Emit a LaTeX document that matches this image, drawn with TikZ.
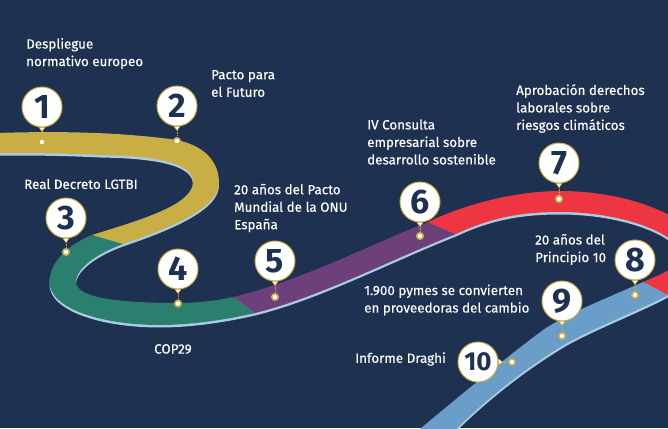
\documentclass[tikz,border=0pt]{standalone}
\usepackage{fontspec}
\setmainfont{Fira Sans}
\newfontfamily\capfont{Fira Sans}[FakeBold=0.25]
\usetikzlibrary{arrows.meta, calc}

\definecolor{navy}{HTML}{1F3150}
\definecolor{ribgold}{HTML}{C8AE45}
\definecolor{ribgreen}{HTML}{2A7F6F}
\definecolor{ribpurple}{HTML}{6D3F7B}
\definecolor{ribred}{HTML}{EE3642}
\definecolor{ribblue}{HTML}{6A9DC8}
\definecolor{ribedge}{HTML}{A9CCE3}

\tikzstyle{caption} = [inner sep=0pt, anchor=west, align=left, text=white,
font=\capfont\fontsize{13.4}{17.5}\selectfont]
\tikzstyle{numpin} = [circle, minimum size=40pt, inner sep=0pt,
draw=ribgold, line width=1pt, fill=white, text=navy,
font=\fontsize{34}{34}\selectfont\bfseries]
\tikzstyle{marker} = [circle, minimum size=6.5pt, inner sep=0pt,
draw=ribgold, line width=1.6pt, fill=white]
\tikzstyle{stem} = [draw=ribgold, line width=0.7pt, densely dotted]
\tikzstyle{pintip} = [draw=ribgold, line width=0.6pt,
-{Triangle[length=5pt, width=7pt, fill=white]}]

% ribbon pieces, in pixels of the reference
\newcommand{\goldpiece}{(-5,133) .. controls (60,131) and (120,132) .. (177,140)
.. controls (205,146) and (219,162) .. (219,183)
.. controls (219,208) and (170,228) .. (123,244) -- (92,235)
.. controls (140,220) and (193,205) .. (193,182)
.. controls (193,165) and (165,156) .. (100,155)
.. controls (60,153) and (30,153) .. (-5,153) -- cycle}
\newcommand{\greenpiece}{(92,235) .. controls (68,245) and (49.5,262) .. (49.5,282)
.. controls (49.5,308) and (100,325) .. (160,325)
.. controls (190,325) and (225,320) .. (255,313) -- (233,297)
.. controls (215,301) and (195,303) .. (178,303)
.. controls (120,303) and (76,298) .. (76,282)
.. controls (76,268) and (98,253) .. (123,244) -- cycle}
\newcommand{\purplepiece}{(233,297) .. controls (300,281) and (365,247) .. (428,222)
-- (456,234) .. controls (390,260) and (320,297) .. (255,313) -- cycle}
\newcommand{\redpiece}{(428,222) .. controls (470,202) and (520,191) .. (560,191)
.. controls (640,191) and (705,225) .. (705,255)
.. controls (705,272) and (690,285) .. (668,295) -- (643,282)
.. controls (660,275) and (682,265) .. (682,257)
.. controls (682,235) and (625,212) .. (560,212)
.. controls (520,212) and (490,218) .. (456,234) -- cycle}
\newcommand{\bluepiece}{(643,282) .. controls (610,297) and (570,312) .. (543,330)
.. controls (500,362) and (455,400) .. (415,433) -- (452,433)
.. controls (490,395) and (530,365) .. (567,343)
.. controls (600,325) and (640,310) .. (668,295) -- cycle}

\begin{document}
\begin{tikzpicture}[x=1pt, y=-1pt]

\useasboundingbox (0,0) rectangle (668,428);
\clip (0,0) rectangle (668,428);
\fill[navy] (0,0) rectangle (668,428);

% light edge under the ribbon
\fill[ribedge, yshift=-2.5pt] \goldpiece;
\fill[ribedge, yshift=-2.5pt] \greenpiece;
\fill[ribedge, yshift=-2.5pt] \purplepiece;
\fill[ribedge, yshift=-2.5pt] \redpiece;
\fill[ribedge, yshift=-2.5pt] \bluepiece;

\fill[ribgold] \goldpiece;
\fill[ribgreen] \greenpiece;
\fill[ribpurple] \purplepiece;
\fill[ribred] \redpiece;
\fill[ribblue] \bluepiece;

\node (pin1) [numpin] at (42,107) {1};
\node (pin2) [numpin] at (177,106) {2};
\node (pin3) [numpin] at (66,218) {3};
\node (pin4) [numpin] at (178,269) {4};
\node (pin5) [numpin] at (275,261) {5};
\node (pin6) [numpin] at (420,202) {6};
\node (pin7) [numpin] at (559,163) {7};
\node (pin8) [numpin] at (635,260) {8};
\node (pin9) [numpin] at (562,301) {9};
\node (pin10) [numpin, font=\fontsize{26}{26}\selectfont\bfseries] at (478,362) {10};

\node (dot1) [marker] at (42,142) {};
\node (dot2) [marker] at (177,141) {};
\node (dot3) [marker] at (66,252) {};
\node (dot4) [marker] at (178,303.5) {};
\node (dot5) [marker] at (275,297) {};
\node (dot6) [marker] at (420,236) {};
\node (dot7) [marker] at (559,199) {};
\node (dot8) [marker] at (635,295) {};
\node (dot9) [marker] at (562,336) {};
\node (dot10) [marker] at (512,362) {};

\foreach \n in {1,...,10} {
  \draw [stem] (pin\n) -- (dot\n);
  \draw [pintip] (pin\n) -- ($(pin\n)!25pt!(dot\n)$);
}

\node (txt1) [caption] at (26,53.5) {Despliegue\\normativo europeo};
\node (txt2) [caption] at (211,83.5) {Pacto para\\el Futuro};
\node (txt3) [caption] at (24,184) {Real Decreto LGTBI};
\node (txt4) [caption] at (154,349) {COP29};
\node (txt5) [caption] at (234,208) {20 años del Pacto\\Mundial de la ONU\\España};
\node (txt6) [caption] at (367,142) {IV Consulta\\empresarial sobre\\desarrollo sostenible};
\node (txt7) [caption] at (516,108.5) {Aprobación derechos\\laborales sobre\\riesgos climáticos};
\node (txt8) [caption] at (535,249.5) {20 años del\\Principio 10};
\node (txt9) [caption] at (364,300) {1.900 pymes se convierten\\en proveedoras del cambio};
\node (txt10) [caption] at (355,359) {Informe Draghi};

\end{tikzpicture}
\end{document}
